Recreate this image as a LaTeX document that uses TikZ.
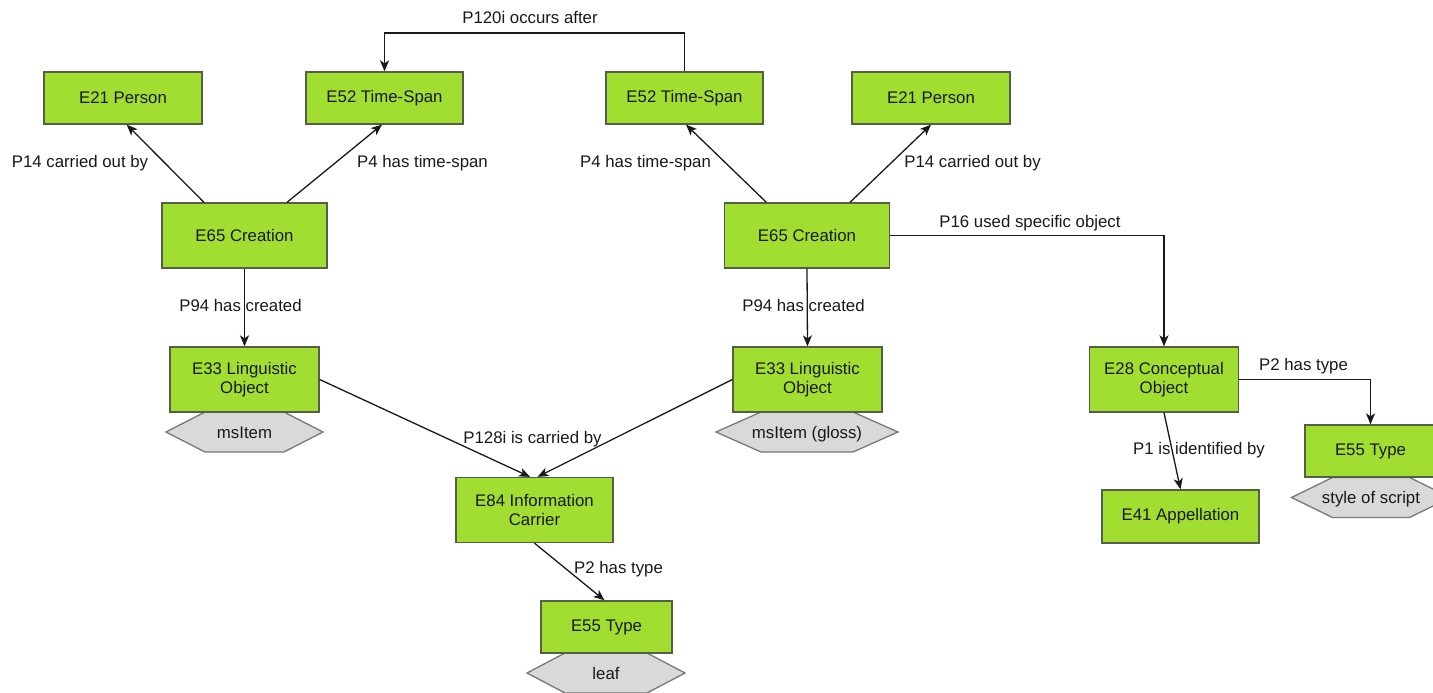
\documentclass[tikz,border=0pt]{standalone}
\usepackage{fontspec}
\setmainfont{Liberation Sans}
\usetikzlibrary{arrows.meta}
\definecolor{boxgreen}{RGB}{162,222,50}
\definecolor{boxline}{RGB}{85,95,70}
\definecolor{hexfill}{RGB}{217,217,217}
\definecolor{hexline}{RGB}{120,120,120}
\definecolor{ink}{RGB}{25,25,25}
\newcommand\hexagonat[6]{%
  \draw[hexbox] ({#2-#4},#3) -- ({#2-#4+#5},{#3-20}) -- ({#2+#4-#5},{#3-20}) -- ({#2+#4},#3) -- ({#2+#4-#5},{#3+20}) -- ({#2-#4+#5},{#3+20}) -- cycle;
  \node[hexlbl] (#1) at (#2,#3) {#6};}
\begin{document}
\begin{tikzpicture}[x=1pt,y=-1pt,
  every node/.style={font=\fontsize{16.8}{19.5}\selectfont, text=ink},
  ent/.style={draw=boxline, line width=1.3pt, fill=boxgreen, align=center, inner sep=0pt, minimum height=65pt},
  small/.style={minimum height=52pt},
  lbl/.style={inner sep=0pt, text height=12pt, text depth=0pt},
  hexlbl/.style={inner sep=0pt, text height=12pt, text depth=0pt},
  hexbox/.style={draw=hexline, fill=hexfill, line width=1.3pt},
  rel/.style={draw=ink, line width=1.3pt, -{Stealth[length=11pt,width=9pt,inset=3pt]}}
]
\useasboundingbox (0,0) rectangle (1433,693);

% hexagons (type labels)
\hexagonat{h1}{244.5}{432}{78.5}{39}{msItem}
\hexagonat{h2}{807}{432}{91}{45}{msItem (gloss)}
\hexagonat{h3}{606}{673}{79}{38}{leaf}
\hexagonat{h4}{1371}{497.5}{79.5}{41}{style of script}

% entity boxes
\node[ent, small, minimum width=158pt] (p1) at (123,98) {E21 Person};
\node[ent, small, minimum width=157pt] (t1) at (384.5,98) {E52 Time-Span};
\node[ent, small, minimum width=157pt] (t2) at (684.5,98) {E52 Time-Span};
\node[ent, small, minimum width=158pt] (p2) at (931,98) {E21 Person};
\node[ent, minimum width=165pt] (c1) at (244.5,235.5) {E65 Creation};
\node[ent, minimum width=165pt] (c2) at (807,235.5) {E65 Creation};
\node[ent, minimum width=149pt] (l1) at (244.5,379.5) {E33 Linguistic\\Object};
\node[ent, minimum width=149pt] (l2) at (807.5,379.5) {E33 Linguistic\\Object};
\node[ent, minimum width=157pt] (ic) at (534.5,510) {E84 Information\\Carrier};
\node[ent, small, minimum width=131pt] (ty1) at (606.5,627) {E55 Type};
\node[ent, minimum width=149pt] (co) at (1164,379.5) {E28 Conceptual\\Object};
\node[ent, small, minimum width=157pt, minimum height=53pt] (ap) at (1180.5,516.5) {E41 Appellation};
\node[ent, small, minimum width=131pt] (ty2) at (1370.5,451) {E55 Type};

% connectors
\coordinate (ptop) at (535,33);
\draw[rel] (t2.north) |- (ptop) -| (t1.north);
\draw[rel] ([xshift=-40.5pt]c1.north) -- ([xshift=3.7pt]p1.south);
\draw[rel] ([xshift=42.5pt]c1.north) -- ([xshift=-2.5pt]t1.south);
\draw[rel] ([xshift=-40.6pt]c2.north) -- ([xshift=1.5pt]t2.south);
\draw[rel] ([xshift=43pt]c2.north) -- (p2.south);
\draw[rel] (c1.south) -- (l1.north);
\draw[rel] (c2.south) -- (l2.north);
\draw[rel] (l1.east) -- ([xshift=-4.5pt]ic.north);
\draw[rel] (l2.west) -- ([xshift=3pt]ic.north);
\draw[rel] (ic.south) -- ([xshift=-2pt]ty1.north);
\draw[rel] (c2.east) -| (co.north);
\draw[rel] (co.east) -| (ty2.north);
\draw[rel] (co.south) -- (ap.north);

% connector labels
\node[lbl] (lb1) at (530,18) {P120i occurs after};
\node[lbl] (lb2) at (80,161) {P14 carried out by};
\node[lbl] (lb3) at (422.5,161) {P4 has time-span};
\node[lbl] (lb4) at (645.5,161) {P4 has time-span};
\node[lbl] (lb5) at (972.5,161) {P14 carried out by};
\node[lbl] (lb6) at (240.5,305) {P94 has created};
\node[lbl] (lb7) at (803.5,305) {P94 has created};
\node[lbl] (lb8) at (1030,221) {P16 used specific object};
\node[lbl] (lb9) at (532.5,437) {P128i is carried by};
\node[lbl] (lb10) at (618.5,567) {P2 has type};
\node[lbl] (lb11) at (1303.5,364) {P2 has type};
\node[lbl] (lb12) at (1199,448) {P1 is identified by};
\end{tikzpicture}
\end{document}
